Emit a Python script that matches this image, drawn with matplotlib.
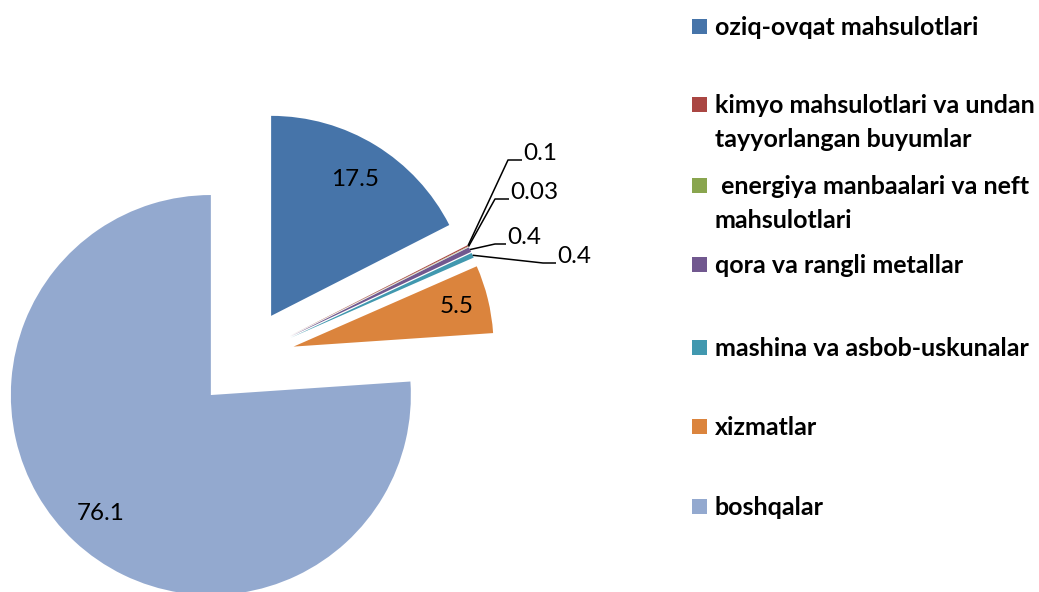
#!/usr/bin/env python3
"""Exploded pie of trade structure (%) with a hand-placed legend on the right."""
import matplotlib
matplotlib.use("Agg")
import matplotlib.pyplot as plt
import numpy as np
from matplotlib.patches import Rectangle

categories = [
    "oziq-ovqat mahsulotlari",
    "kimyo mahsulotlari va undan\ntayyorlangan buyumlar",
    " energiya manbaalari va neft\nmahsulotlari",
    "qora va rangli metallar",
    "mashina va asbob-uskunalar",
    "xizmatlar",
    "boshqalar",
]
values = [17.5, 0.1, 0.03, 0.4, 0.4, 5.5, 76.1]
value_labels = ["17.5", "0.1", "0.03", "0.4", "0.4", "5.5", "76.1"]
colors = ["#4674A9", "#AA4643", "#89A54E", "#71588F", "#4198AF", "#DB843D", "#93A9CF"]

W, H = 1039, 592
R_PX = 200.0                # pie radius in pixels
CX, CY = 245.0, 358.5       # unexploded pie centre in pixels


def px(x, y):
    """pixel (from top-left) -> data units of the pie axes"""
    return (x - CX) / R_PX, (CY - y) / R_PX


fig = plt.figure(figsize=(W / 100, H / 100), dpi=100)
ax = fig.add_axes([0, 0, 1, 1])
wedges, _ = ax.pie(values, colors=colors, startangle=90, counterclock=False,
                   explode=[0.25] * len(values), radius=1.0,
                   wedgeprops=dict(linewidth=0))
ax.set_xlim(-CX / R_PX, (W - CX) / R_PX)
ax.set_ylim(-(H - CY) / R_PX, CY / R_PX)
ax.set_aspect("equal")
ax.axis("off")

num_font = dict(family=["Lato", "DejaVu Sans"], fontsize=17.5, color="black")

# big slices: label inside the wedge
inside = {0: 0.80, 5: 0.84, 6: 0.81}
for i, d in inside.items():
    w = wedges[i]
    mid = np.deg2rad((w.theta1 + w.theta2) / 2)
    x = w.center[0] + d * w.r * np.cos(mid)
    y = w.center[1] + d * w.r * np.sin(mid)
    ax.text(x, y, value_labels[i], ha="center", va="center", **num_font)

# tiny slices: label outside with an elbow leader line
# (text left x, text centre y, elbow x) in pixels
outside = {1: (523, 153, 508), 2: (510, 192, 495), 3: (507, 237, 495), 4: (557, 256, 543)}
for i, (tx, ty, ex) in outside.items():
    w = wedges[i]
    mid = np.deg2rad((w.theta1 + w.theta2) / 2)
    x0 = w.center[0] + w.r * np.cos(mid)
    y0 = w.center[1] + w.r * np.sin(mid)
    ex_d, ey_d = px(ex, ty + 7)
    tx_d, _ = px(tx - 1, ty + 7)
    ax.plot([x0, ex_d, tx_d], [y0, ey_d, ey_d], color="black", lw=1.1,
            solid_capstyle="butt")
    lx, ly = px(tx, ty)
    ax.text(lx, ly, value_labels[i], ha="left", va="center", **num_font)

# legend, drawn by hand so markers sit on the first line of each entry
baselines = [35, 113, 194, 273, 356, 435, 515]
line_gap = 34
for lab, col, base in zip(categories, colors, baselines):
    fig.patches.append(Rectangle(((692) / W, 1 - (base - 1) / H), 15 / W, 15 / H,
                                 transform=fig.transFigure, color=col, lw=0))
    for k, line in enumerate(lab.split("\n")):
        fig.text(715 / W, 1 - (base + k * line_gap) / H, line, ha="left",
                 va="baseline", family=["Lato", "DejaVu Sans"], fontweight="bold",
                 fontsize=18, color="black")

fig.savefig("out.png", dpi=100)
